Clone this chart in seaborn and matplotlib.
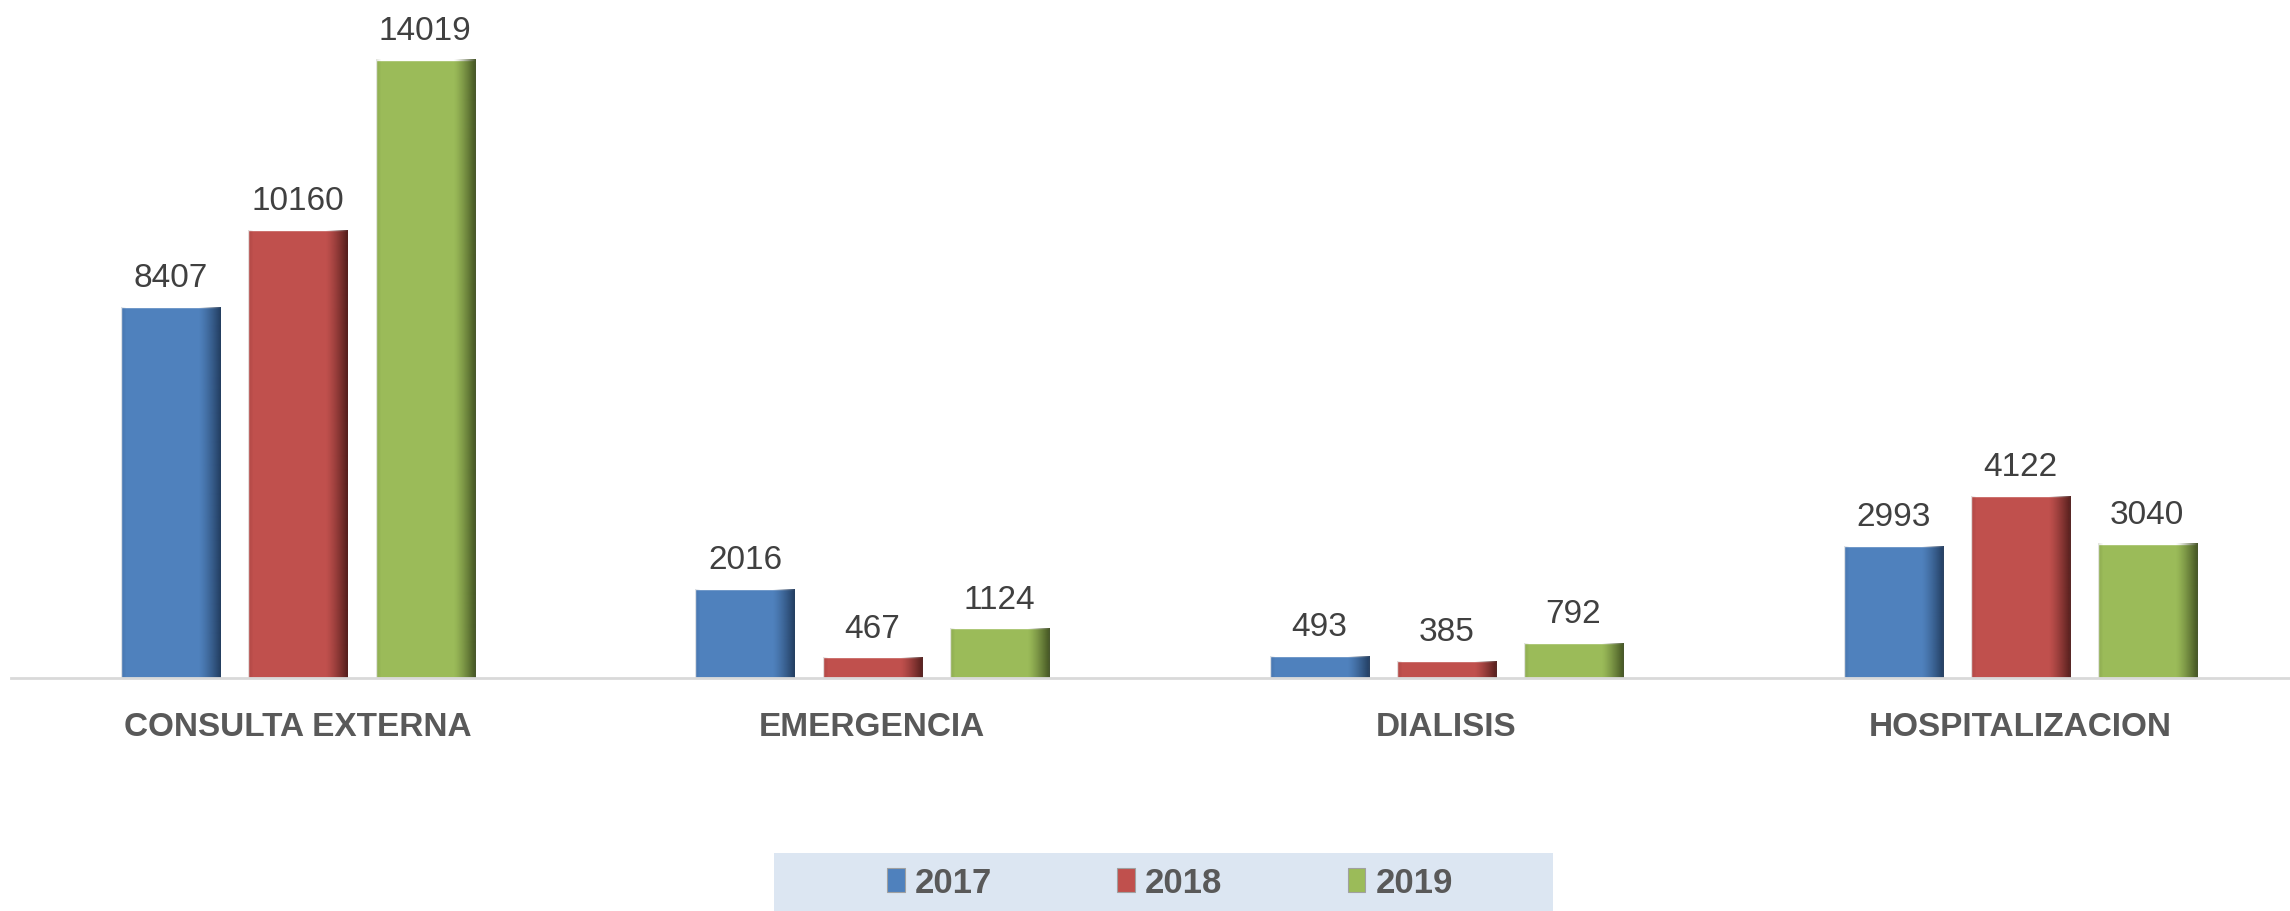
import numpy as np
import pandas as pd
import matplotlib
matplotlib.use("Agg")
import matplotlib.pyplot as plt
import matplotlib.colors as mcolors
from matplotlib.patches import Rectangle
import seaborn as sns

# -----------------------------
# datos
# -----------------------------
categorias = ["CONSULTA EXTERNA", "EMERGENCIA", "DIALISIS", "HOSPITALIZACION"]
anios = ["2017", "2018", "2019"]
valores_2017 = [8407, 2016, 493, 2993]
valores_2018 = [10160, 467, 385, 4122]
valores_2019 = [14019, 1124, 792, 3040]

colores = ["#4f81bd", "#c0504d", "#9bbb59"]
oscuros = ["#203a5c", "#4f1c1a", "#3f4f20"]

df = pd.DataFrame({
    "categoria": categorias * 3,
    "anio": [a for a in anios for _ in categorias],
    "valor": valores_2017 + valores_2018 + valores_2019,
})

sns.set_theme(style="white")
fuente = ["Liberation Sans Narrow", "Liberation Sans", "DejaVu Sans"]
plt.rcParams["font.family"] = fuente

W, H = 2290, 912
fig = plt.figure(figsize=(W / 100, H / 100), dpi=100)
ax = fig.add_axes([11 / W, (H - 679) / H, 1 - 11 / W, 679 / H])

sns.barplot(data=df, x="categoria", y="valor", hue="anio", palette=colores,
            width=0.664, gap=0.22, ax=ax, legend=False, saturation=1)

# sombreado tipo degradado en el borde derecho de cada barra
for cont, oscuro in zip(ax.containers, oscuros):
    rgb = mcolors.to_rgb(oscuro)
    for p in cont.patches:
        x0, y0 = p.get_x(), p.get_y()
        w, h = p.get_width(), p.get_height()
        t = np.linspace(0, 1, 100)
        alpha = np.clip((t - 0.78) / 0.22, 0, 1) ** 1.3 * 0.95
        alpha += np.clip((0.05 - t) / 0.05, 0, 1) * 0.15
        img = np.zeros((1, 100, 4))
        img[..., :3] = rgb
        img[0, :, 3] = alpha
        ax.imshow(img, extent=(x0, x0 + w, y0, y0 + h), aspect="auto",
                  zorder=p.get_zorder() + 0.1, interpolation="bilinear")
    ax.bar_label(cont, fmt="%d", padding=10, fontsize=24, color="#404040",
                 family=fuente)

ax.set_ylim(0, 15400)
ax.set_xlim(-0.5, 3.47)

for s in ["top", "right", "left"]:
    ax.spines[s].set_visible(False)
ax.spines["bottom"].set_color("#d9d9d9")
ax.spines["bottom"].set_linewidth(2)
ax.set_yticks([])
ax.set_xlabel("")
ax.set_ylabel("")
ax.tick_params(axis="x", length=0, pad=24)
for lbl in ax.get_xticklabels():
    lbl.set_fontsize(24)
    lbl.set_fontweight("bold")
    lbl.set_color("#595959")

# leyenda con fondo azul claro
fig.patches.append(Rectangle((774 / W, 0), (1553 - 774) / W, 58 / H,
                             transform=fig.transFigure, facecolor="#dce6f2",
                             edgecolor="none", zorder=0))
handles = [Rectangle((0, 0), 1, 1, facecolor=c, edgecolor="#a0a0a0", linewidth=0.8)
           for c in colores]
leg = fig.legend(handles, anios, loc="center", bbox_to_anchor=(1170 / W, 0.031),
                 ncol=3, frameon=False, handlelength=0.5, handleheight=0.7,
                 handletextpad=0.3, columnspacing=3.6,
                 prop={"family": fuente, "weight": "bold", "size": 25})
for t in leg.get_texts():
    t.set_color("#595959")

fig.savefig("out.png", dpi=100)
